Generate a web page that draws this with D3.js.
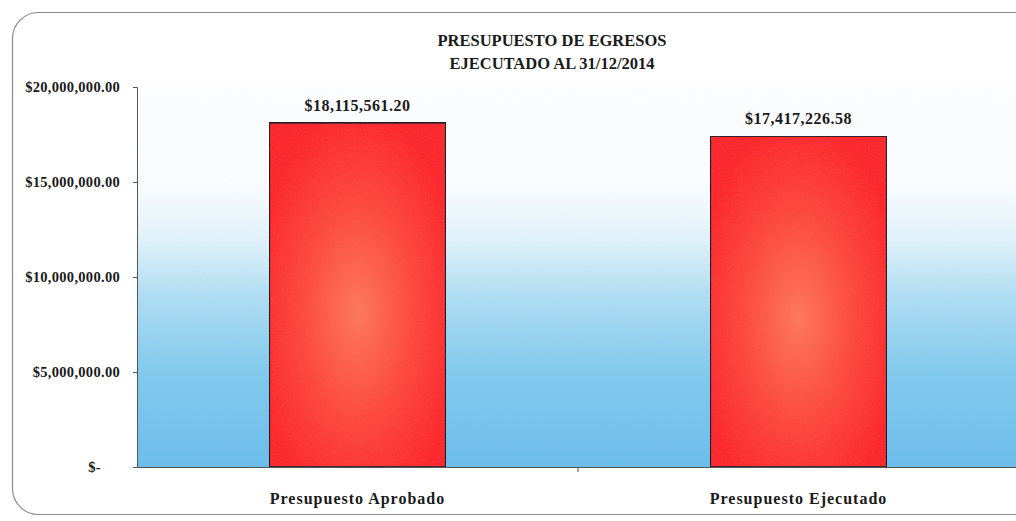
<!DOCTYPE html>
<html><head><meta charset="utf-8">
<script src="https://cdn.jsdelivr.net/npm/d3@7"></script>
<style>
html,body{margin:0;padding:0;background:#fff;}
svg{display:block;}
text{font-family:"Liberation Serif","DejaVu Serif",serif;font-weight:bold;fill:#1a1a1a;}
</style></head>
<body>
<svg id="chart" width="1016" height="521"></svg>
<script>
const titleLines = ["PRESUPUESTO DE EGRESOS", "EJECUTADO AL 31/12/2014"];
const categories = ["Presupuesto Aprobado", "Presupuesto Ejecutado"];
const values = [18115561.20, 17417226.58];
const yTicks = [0, 5000000, 10000000, 15000000, 20000000];

const svg = d3.select("#chart");
const W = 1016, H = 521;
const margin = {left: 137, right: -3, top: 87, bottom: 54};
const plotW = W - margin.left - margin.right;
const plotH = H - margin.top - margin.bottom;

const defs = svg.append("defs");
const bg = defs.append("linearGradient").attr("id","bgGrad").attr("x1",0).attr("y1",0).attr("x2",0).attr("y2",1);
[[0,"#ffffff"],[0.25,"#fdfeff"],[0.4,"#e2f3fb"],[0.55,"#b0def4"],[0.75,"#82caee"],[1,"#6abeeb"]].forEach(([o,c])=>bg.append("stop").attr("offset",o).attr("stop-color",c));
const bar = defs.append("radialGradient").attr("id","barGrad").attr("cx","50%").attr("cy","55%").attr("r","60%").attr("fx","50%").attr("fy","55%");
[[0,"#ff7658"],[0.5,"#ff4636"],[1,"#ff1c1c"]].forEach(([o,c])=>bar.append("stop").attr("offset",o).attr("stop-color",c));
const f = defs.append("filter").attr("id","noise").attr("x",0).attr("y",0).attr("width","100%").attr("height","100%");
f.append("feTurbulence").attr("type","fractalNoise").attr("baseFrequency",0.9).attr("numOctaves",2).attr("seed",3).attr("result","t");
f.append("feColorMatrix").attr("in","t").attr("type","matrix").attr("values","0 0 0 0 0.3  0 0 0 0 0.45  0 0 0 0 0.6  0 0 0 0.07 0").attr("result","n");
f.append("feComposite").attr("in","n").attr("in2","SourceGraphic").attr("operator","in").attr("result","nm");
f.append("feMerge").selectAll("feMergeNode").data(["SourceGraphic","nm"]).enter().append("feMergeNode").attr("in",d=>d);

svg.append("rect").attr("x",12.5).attr("y",12.5).attr("width",1030).attr("height",502).attr("rx",26).attr("ry",26)
  .attr("fill","#fff").attr("stroke","#8a8a8a").attr("stroke-width",1.2);

const g = svg.append("g").attr("transform",`translate(${margin.left},${margin.top})`);

const x = d3.scaleBand().domain(categories).range([0, plotW]).paddingInner(0.6).paddingOuter(0.3);
const y = d3.scaleLinear().domain([0, 20000000]).range([plotH, 0]);

g.append("rect").attr("x",0).attr("y",0).attr("width",plotW).attr("height",plotH)
  .attr("fill","url(#bgGrad)").attr("filter","url(#noise)");

g.selectAll("rect.bar").data(values).enter().append("rect").attr("class","bar")
  .attr("x",(d,i)=>x(categories[i])).attr("y",d=>y(d))
  .attr("width",x.bandwidth()).attr("height",d=>plotH - y(d))
  .attr("fill","url(#barGrad)").attr("stroke","#111").attr("stroke-width",1.6)
  .attr("filter","url(#noise)");

const fmt = d3.format("$,.2f");
g.selectAll("text.val").data(values).enter().append("text").attr("class","val")
  .attr("x",(d,i)=>x(categories[i]) + x.bandwidth()/2).attr("y",d=>y(d) - 12)
  .attr("text-anchor","middle").style("font-size","16px").style("letter-spacing","0.5px").text(d=>fmt(d));

const yAxis = d3.axisLeft(y).tickValues(yTicks).tickSize(4).tickPadding(15)
  .tickFormat(d => d === 0 ? "$-" : fmt(d));
const ya = g.append("g").call(yAxis);
ya.select(".domain").attr("stroke","#555").attr("stroke-width",1);
ya.selectAll(".tick line").attr("stroke","#555");
ya.selectAll(".tick text").style("font-size","14.5px").style("letter-spacing","0.3px").attr("fill","#1a1a1a")
  .style("font-family","'Liberation Serif',serif").style("font-weight","bold")
  .attr("x", d => d === 0 ? -36 : -17);

const xAxis = d3.axisBottom(x).tickSize(0).tickPadding(26);
const xa = g.append("g").attr("transform",`translate(0,${plotH})`).call(xAxis);
xa.select(".domain").attr("stroke","#555").attr("stroke-width",1);
xa.selectAll(".tick text").style("font-size","16px").style("letter-spacing","1px").attr("fill","#1a1a1a")
  .style("font-family","'Liberation Serif',serif").style("font-weight","bold");
const sepX = (x(categories[0]) + x(categories[1]) + x.bandwidth())/2;
xa.append("line").attr("x1",sepX).attr("x2",sepX).attr("y1",0).attr("y2",5).attr("stroke","#555");

svg.append("text").attr("x",552).attr("y",46).attr("text-anchor","middle").style("font-size","16.5px").text(titleLines[0]);
svg.append("text").attr("x",552).attr("y",69).attr("text-anchor","middle").style("font-size","16.5px").text(titleLines[1]);
</script>
</body></html>
